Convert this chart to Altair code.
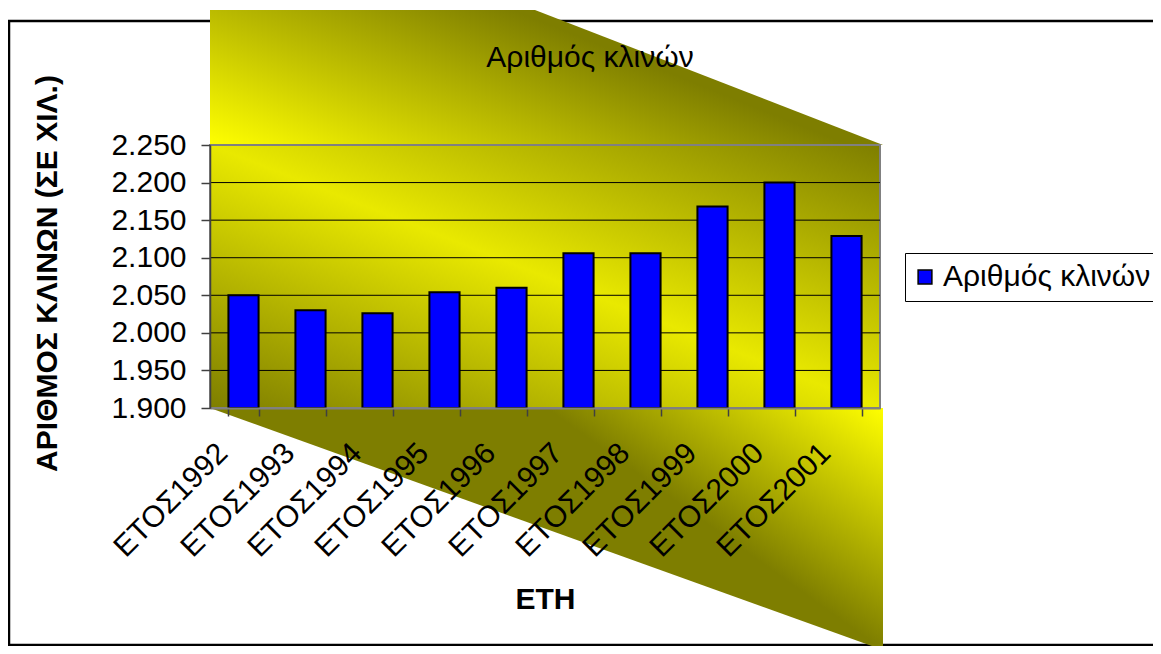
import altair as alt
import pandas as pd

# ---- chart data ----
years = ["ΕΤΟΣ1992", "ΕΤΟΣ1993", "ΕΤΟΣ1994", "ΕΤΟΣ1995", "ΕΤΟΣ1996",
         "ΕΤΟΣ1997", "ΕΤΟΣ1998", "ΕΤΟΣ1999", "ΕΤΟΣ2000", "ΕΤΟΣ2001"]
beds = [2050, 2030, 2026, 2054, 2060, 2106, 2106, 2168, 2200, 2129]
series_name = "Αριθμός κλινών"
y_ticks = [1900, 1950, 2000, 2050, 2100, 2150, 2200, 2250]
y_base = 1900

# ---- decorative "wall/floor" shapes, in pixels relative to the plot area ----
W, H = 670, 263
wall_x = [0, 325, 673]
wall_top = [-135, -135, 0]
wall_bot = [0, 0, 0]
floor_x = [0, 673]
floor_top = [263, 263]
floor_bot = [263, 505]

FONT = "Liberation Sans"
FS = 30
YEL = "#FFFF00"
OLV = "#7E7E00"

bars_df = pd.DataFrame({"year": years, "value": beds, "series": [series_name] * len(years)})
grid_df = pd.DataFrame({"value": y_ticks[1:-1]})
one = pd.DataFrame({"k": [0]})
wall_df = pd.DataFrame({"px": wall_x, "py": wall_top, "py2": wall_bot})
floor_df = pd.DataFrame({"px": floor_x, "py": floor_top, "py2": floor_bot})

yscale = alt.Scale(domain=[y_ticks[0], y_ticks[-1]], nice=False, zero=False)
yaxis = alt.Axis(
    values=y_ticks,
    labelExpr="replace(format(datum.value, ','), ',', '.')",
    labelFont=FONT, labelFontSize=FS, labelColor="black", labelPadding=15,
    tickSize=9, tickColor="#404040", tickWidth=1.5,
    domainColor="#404040", domainWidth=1.5, grid=False,
    title="ΑΡΙΘΜΟΣ ΚΛΙΝΩΝ (ΣΕ ΧΙΛ.)", titleFont=FONT, titleFontSize=FS,
    titleFontWeight="bold", titleColor="black", titleAngle=270,
    titleX=-163, titleY=128, titleAlign="center", titleBaseline="middle",
    zindex=1,
)
xaxis = alt.Axis(
    title="ΕΤΗ", titleFont=FONT, titleFontSize=FS, titleFontWeight="bold",
    titleColor="black", titleX=335, titleY=200, titleAlign="center",
    titleBaseline="alphabetic",
    labelAngle=315, labelAlign="right", labelBaseline="middle",
    labelFont=FONT, labelFontSize=FS, labelColor="black",
    labelPadding=32, labelOffset=-21, labelLimit=400,
    tickBand="extent", tickSize=8, tickColor="#404040", tickWidth=1.5,
    domainColor="#808080", domainWidth=2, grid=False, zindex=1,
)

# outer frame
frame = alt.Chart(one).mark_rect(filled=False, color="black", strokeWidth=2.5).encode(
    x=alt.value(-201), x2=alt.value(960), y=alt.value(-124), y2=alt.value(500)
)

# background wall and floor
pxs = alt.Scale(domain=[0, W], nice=False, zero=False)
pys = alt.Scale(domain=[0, H], nice=False, zero=False, reverse=True)
wall = alt.Chart(wall_df).mark_area(
    fill=alt.Gradient(gradient="linear", x1=0, y1=1, x2=2, y2=0,
                      stops=[alt.GradientStop(color=YEL, offset=0),
                             alt.GradientStop(color=OLV, offset=0.38),
                             alt.GradientStop(color=OLV, offset=1)])
).encode(
    x=alt.X("px:Q", scale=pxs, axis=None),
    y=alt.Y("py:Q", scale=pys, axis=None),
    y2="py2:Q",
)
floor = alt.Chart(floor_df).mark_area(
    fill=alt.Gradient(gradient="linear", x1=1, y1=0, x2=0.6, y2=0.2,
                      stops=[alt.GradientStop(color=YEL, offset=0),
                             alt.GradientStop(color=OLV, offset=1)])
).encode(
    x=alt.X("px:Q", scale=pxs, axis=None),
    y=alt.Y("py:Q", scale=pys, axis=None),
    y2="py2:Q",
)
bg = alt.layer(wall, floor)

# plot area
plot_bg = alt.Chart(one).mark_rect(
    fill=alt.Gradient(gradient="linear", x1=0, y1=1, x2=1, y2=0,
                      stops=[alt.GradientStop(color=OLV, offset=0),
                             alt.GradientStop(color="#E9E900", offset=0.5),
                             alt.GradientStop(color=OLV, offset=1)]),
    stroke="#808080", strokeWidth=2,
).encode(x=alt.value(0), x2=alt.value(W), y=alt.value(0), y2=alt.value(H))

grid = alt.Chart(grid_df).mark_rule(color="black", strokeWidth=1).encode(
    y=alt.Y("value:Q", scale=yscale, axis=yaxis)
)

bars = alt.Chart(bars_df).mark_bar(stroke="black", strokeWidth=2).encode(
    x=alt.X("year:N", sort=years,
            scale=alt.Scale(paddingInner=0.55, paddingOuter=0.275), axis=xaxis),
    y=alt.Y("value:Q", scale=yscale, axis=yaxis),
    y2=alt.datum(y_base),
    color=alt.Color("series:N", scale=alt.Scale(range=["#0000FF"]),
                    legend=alt.Legend(
                        orient="none", legendX=695, legendY=108, title=None,
                        strokeColor="black", fillColor="white", padding=9,
                        symbolType="square", symbolSize=190, symbolOffset=-4,
                        symbolStrokeColor="black", symbolStrokeWidth=1.5,
                        labelFont=FONT, labelFontSize=FS, labelColor="black",
                        labelOffset=3, labelLimit=400)),
)

main = alt.layer(plot_bg, grid, bars)

chart = alt.layer(frame, bg, main).resolve_scale(
    x="independent", y="independent"
).properties(
    width=W, height=H,
    padding={"left": 202, "top": 137, "right": 273, "bottom": 238},
    autosize=alt.AutoSizeParams(type="none"),
    title=alt.TitleParams(series_name, font=FONT, fontSize=FS, fontWeight="normal",
                          color="black", anchor="middle", dx=45, offset=-93,
                          baseline="bottom"),
).configure_view(stroke=None).configure(background="white")

chart.save("out.html", embed_options={"renderer": "svg", "actions": False})
